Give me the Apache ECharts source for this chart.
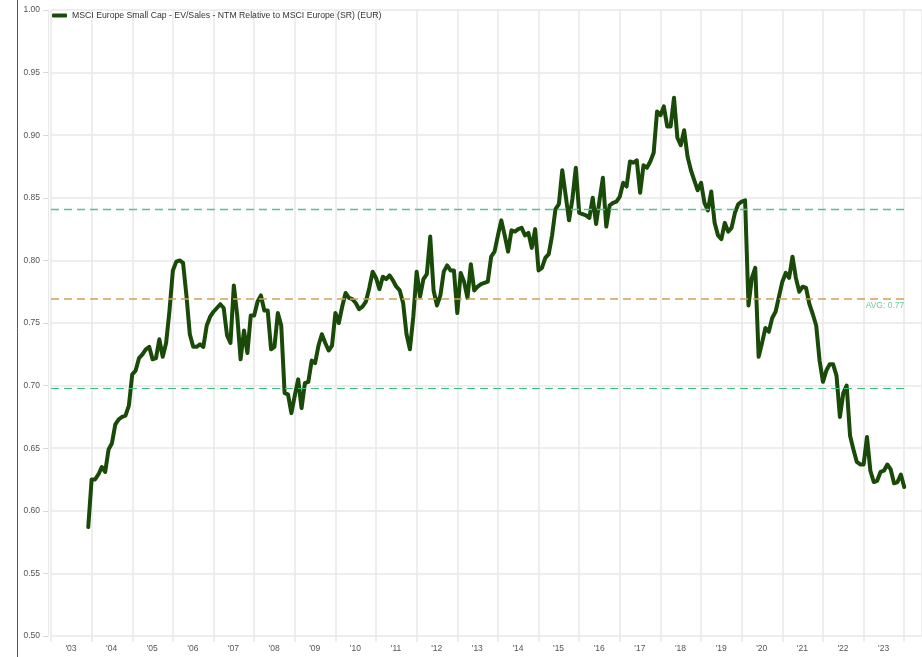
<!DOCTYPE html>
<html>
<head>
<meta charset="utf-8">
<script src="https://cdn.jsdelivr.net/npm/echarts/dist/echarts.min.js"></script>
<style>
  html, body { margin: 0; padding: 0; background: #fff; }
  #chart { width: 922px; height: 657px; }
</style>
</head>
<body>
<div id="chart"></div>
<script>
// monthly series, first point is Dec 2003
var seriesName = 'MSCI Europe Small Cap - EV/Sales - NTM Relative to MSCI Europe (SR) (EUR)';
var startMonth = [2003, 12];
var ratio = [
  0.587,
  0.625, 0.625, 0.629, 0.635, 0.631, 0.649, 0.654, 0.669, 0.673, 0.675, 0.676, 0.684,   // 2004
  0.709, 0.712, 0.722, 0.725, 0.729, 0.731, 0.721, 0.722, 0.737, 0.723, 0.734, 0.760,   // 2005
  0.792, 0.799, 0.800, 0.798, 0.772, 0.741, 0.731, 0.731, 0.733, 0.731, 0.748, 0.755,   // 2006
  0.759, 0.762, 0.765, 0.762, 0.740, 0.734, 0.780, 0.756, 0.721, 0.744, 0.726, 0.756,   // 2007
  0.756, 0.767, 0.772, 0.760, 0.760, 0.729, 0.731, 0.758, 0.748, 0.694, 0.693, 0.678,   // 2008
  0.692, 0.705, 0.682, 0.702, 0.703, 0.720, 0.718, 0.732, 0.741, 0.734, 0.728, 0.732,   // 2009
  0.758, 0.750, 0.763, 0.774, 0.770, 0.769, 0.766, 0.761, 0.763, 0.767, 0.778, 0.791,   // 2010
  0.786, 0.777, 0.787, 0.785, 0.788, 0.784, 0.779, 0.776, 0.766, 0.741, 0.729, 0.755,   // 2011
  0.791, 0.771, 0.785, 0.789, 0.819, 0.776, 0.764, 0.772, 0.791, 0.796, 0.792, 0.792,   // 2012
  0.758, 0.790, 0.783, 0.770, 0.797, 0.776, 0.779, 0.781, 0.782, 0.783, 0.803, 0.807,   // 2013
  0.820, 0.832, 0.820, 0.807, 0.824, 0.823, 0.825, 0.826, 0.820, 0.822, 0.810, 0.825,   // 2014
  0.792, 0.794, 0.802, 0.805, 0.820, 0.841, 0.845, 0.872, 0.852, 0.832, 0.849, 0.874,   // 2015
  0.838, 0.837, 0.836, 0.834, 0.850, 0.829, 0.848, 0.866, 0.827, 0.844, 0.846, 0.847,   // 2016
  0.851, 0.862, 0.859, 0.879, 0.878, 0.880, 0.854, 0.876, 0.874, 0.879, 0.886, 0.919,   // 2017
  0.916, 0.923, 0.907, 0.907, 0.930, 0.898, 0.892, 0.904, 0.883, 0.872, 0.864, 0.856,   // 2018
  0.862, 0.846, 0.840, 0.855, 0.830, 0.820, 0.817, 0.830, 0.823, 0.826, 0.838, 0.845,   // 2019
  0.847, 0.848, 0.764, 0.786, 0.794, 0.723, 0.734, 0.746, 0.743, 0.754, 0.759, 0.771,   // 2020
  0.783, 0.790, 0.786, 0.803, 0.786, 0.775, 0.779, 0.778, 0.765, 0.757, 0.748, 0.720,   // 2021
  0.703, 0.712, 0.717, 0.717, 0.708, 0.675, 0.694, 0.700, 0.660, 0.649, 0.639, 0.637,   // 2022
  0.637, 0.659, 0.632, 0.623, 0.624, 0.631, 0.632, 0.637, 0.633, 0.622, 0.623, 0.629,   // 2023
  0.619                                                                                 // 2024
];

// average and +/- 1 std dev lines
var avgLevel = 0.769;
var upperLevel = 0.841;
var lowerLevel = 0.698;
var avgText = 'AVG: 0.77';

var yearTicks = [2003, 2024];   // first and last year gridline
var yTicks = [0.50, 1.00, 0.05];

var myChart = null;

function draw_chart() {
  myChart = echarts.init(document.getElementById('chart'), null, { renderer: 'canvas' });
  myChart.setOption(cal_option());
  window.onresize = function () {
    myChart.resize();
  };
}

function cal_option() {
  var points = [];
  for (var i = 0; i < ratio.length; i++) {
    var m = startMonth[1] - 1 + i;
    var yr = startMonth[0] + Math.floor(m / 12);
    points.push([yr + (m % 12) / 12, ratio[i]]);
  }
  var xFirst = yearTicks[0];
  var xLast = points[points.length - 1][0];

  var font = 'Liberation Sans, Arial, sans-serif';
  var gridColor = '#e8e8e8';

  // one empty helper series per dashed level, so each keeps its own colour
  function band_series(name, level, color, width, label) {
    return {
      name: name,
      type: 'line',
      data: [],
      z: 1,
      silent: true,
      markLine: {
        silent: true,
        symbol: ['none', 'none'],
        lineStyle: { color: color, type: [8, 5], width: width, opacity: 1 },
        label: label || { show: false },
        data: [[{ coord: [xFirst, level] }, { coord: [xLast, level] }]]
      }
    };
  }

  var option = {
    animation: false,
    backgroundColor: '#fff',
    textStyle: { fontFamily: font },
    graphic: [{
      type: 'line',
      shape: { x1: 17.5, y1: 0, x2: 17.5, y2: 657 },
      style: { stroke: '#555', lineWidth: 1 },
      silent: true
    }],
    legend: {
      left: 47,
      top: 6,
      itemWidth: 15,
      itemHeight: 4,
      itemGap: 6,
      icon: 'roundRect',
      textStyle: { fontSize: 8.7, color: '#333', fontFamily: font },
      data: [seriesName]
    },
    grid: {
      left: 51,
      right: 0,
      top: 10,
      bottom: 21,
      containLabel: false
    },
    xAxis: {
      type: 'value',
      min: yearTicks[0],
      max: yearTicks[0] + 871 / 40.63,
      interval: 1,
      axisLine: { show: false },
      axisTick: { show: true, length: 6, lineStyle: { color: gridColor, width: 1.5 } },
      splitLine: { show: true, lineStyle: { color: gridColor, width: 1.5 } },
      axisLabel: {
        color: '#555',
        fontSize: 8.5,
        fontFamily: font,
        margin: 8,
        padding: [0, 0, 0, 40],
        showMaxLabel: false,
        formatter: function (v) {
          if (v >= yearTicks[1]) return '';
          return "'" + String(v).slice(2);
        }
      }
    },
    yAxis: {
      type: 'value',
      min: yTicks[0],
      max: yTicks[1],
      interval: yTicks[2],
      offset: 3,
      axisLine: { show: true, lineStyle: { color: gridColor, width: 1 } },
      axisTick: { show: true, length: 5, lineStyle: { color: '#d8d8d8' } },
      splitLine: { show: true, lineStyle: { color: gridColor, width: 1.5 } },
      axisLabel: {
        color: '#555',
        fontSize: 8.5,
        fontFamily: font,
        margin: 8,
        formatter: function (v) { return v.toFixed(2); }
      }
    },
    series: [
      band_series('upper', upperLevel, '#4fc68c', 1.3),
      band_series('avg', avgLevel, '#cfa24f', 1.5, {
        show: true,
        position: 'insideEndBottom',
        formatter: avgText,
        color: '#6fcb9e',
        fontSize: 8.5,
        fontFamily: font,
        distance: [0, 2]
      }),
      band_series('lower', lowerLevel, '#3fc07f', 1),
      {
        name: seriesName,
        type: 'line',
        z: 3,
        showSymbol: false,
        symbol: 'none',
        smooth: false,
        itemStyle: { color: '#1a4a08' },
        lineStyle: { color: '#1a4a08', width: 4, join: 'round', cap: 'round' },
        data: points
      }
    ]
  };
  return option;
}

draw_chart();
</script>
</body>
</html>
